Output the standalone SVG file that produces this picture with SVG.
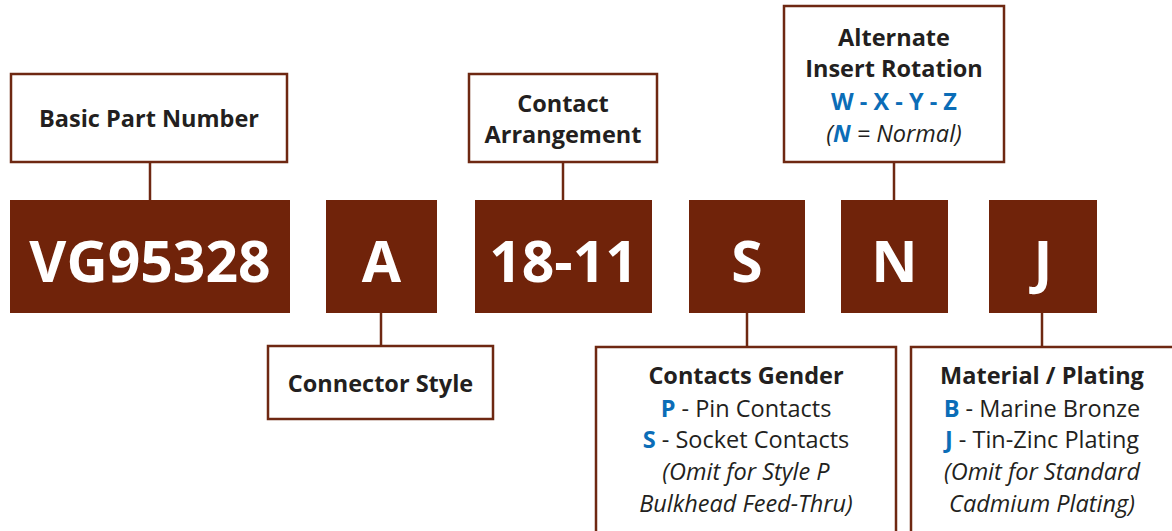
<svg xmlns="http://www.w3.org/2000/svg" width="1172" height="531" viewBox="0 0 1172 531">
<style>
.code{fill:#70230a}
.codetxt{font-family:"Open Sans","Liberation Sans",sans-serif;font-weight:700;font-size:57px;fill:#ffffff;text-anchor:middle}
.box{fill:#ffffff;stroke:#6e2812;stroke-width:2.5}
.lbl{font-family:"Open Sans","Liberation Sans",sans-serif;font-size:23.5px;fill:#231f20;text-anchor:middle}
.b{font-weight:700}
.i{font-style:italic}
.blue{fill:#0b6db7;font-weight:700}
.con{stroke:#6e2812;stroke-width:2.5;fill:none}
</style>
<rect width="1172" height="531" fill="#ffffff"/>
<g id="connectors">
<line class="con" x1="150" y1="162" x2="150" y2="200"/>
<line class="con" x1="381" y1="313" x2="381" y2="346"/>
<line class="con" x1="563" y1="162" x2="563" y2="200"/>
<line class="con" x1="747" y1="313" x2="747" y2="346"/>
<line class="con" x1="894" y1="162" x2="894" y2="200"/>
<line class="con" x1="1042" y1="313" x2="1042" y2="346"/>
</g>
<g id="code-vg95328"><rect class="code" x="10" y="200" width="280" height="113"/><text class="codetxt" x="150" y="282">VG95328</text></g>
<g id="code-a"><rect class="code" x="326" y="200" width="111" height="113"/><text class="codetxt" x="381.5" y="282">A</text></g>
<g id="code-18-11"><rect class="code" x="475" y="200" width="177" height="113"/><text class="codetxt" x="563.5" y="282">18-11</text></g>
<g id="code-s"><rect class="code" x="689" y="200" width="116" height="113"/><text class="codetxt" x="747" y="282">S</text></g>
<g id="code-n"><rect class="code" x="841" y="200" width="107" height="113"/><text class="codetxt" x="894.5" y="282">N</text></g>
<g id="code-j"><rect class="code" x="989" y="200" width="108" height="113"/><text class="codetxt" x="1043" y="282">J</text></g>
<g id="basic-part-number"><rect class="box" x="11" y="74" width="276" height="88"/><text class="lbl b" x="149" y="127">Basic Part Number</text></g>
<g id="connector-style"><rect class="box" x="268" y="346" width="225" height="73"/><text class="lbl b" x="380.5" y="392">Connector Style</text></g>
<g id="contact-arrangement"><rect class="box" x="469" y="74" width="188" height="88"/><text class="lbl b" x="563" y="112">Contact</text><text class="lbl b" x="563" y="143">Arrangement</text></g>
<g id="alternate-insert-rotation"><rect class="box" x="784" y="6" width="220" height="156"/>
<text class="lbl b" x="894" y="46">Alternate</text>
<text class="lbl b" x="894" y="77">Insert Rotation</text>
<text class="lbl blue" x="894" y="110">W - X - Y - Z</text>
<text class="lbl i" x="894" y="142">(<tspan class="blue">N</tspan> = Normal)</text>
</g>
<g id="contacts-gender"><rect class="box" x="596" y="347" width="300" height="220"/>
<text class="lbl b" x="746" y="384">Contacts Gender</text>
<text class="lbl" x="746" y="417"><tspan class="blue">P</tspan> - Pin Contacts</text>
<text class="lbl" x="746" y="448"><tspan class="blue">S</tspan> - Socket Contacts</text>
<text class="lbl i" x="746" y="480">(Omit for Style P</text>
<text class="lbl i" x="746" y="512">Bulkhead Feed-Thru)</text>
</g>
<g id="material-plating"><rect class="box" x="911" y="347" width="280" height="220"/>
<text class="lbl b" x="1042" y="384">Material / Plating</text>
<text class="lbl" x="1042" y="417"><tspan class="blue">B</tspan> - Marine Bronze</text>
<text class="lbl" x="1042" y="448"><tspan class="blue">J</tspan> - Tin-Zinc Plating</text>
<text class="lbl i" x="1042" y="480">(Omit for Standard</text>
<text class="lbl i" x="1042" y="512">Cadmium Plating)</text>
</g>
</svg>
